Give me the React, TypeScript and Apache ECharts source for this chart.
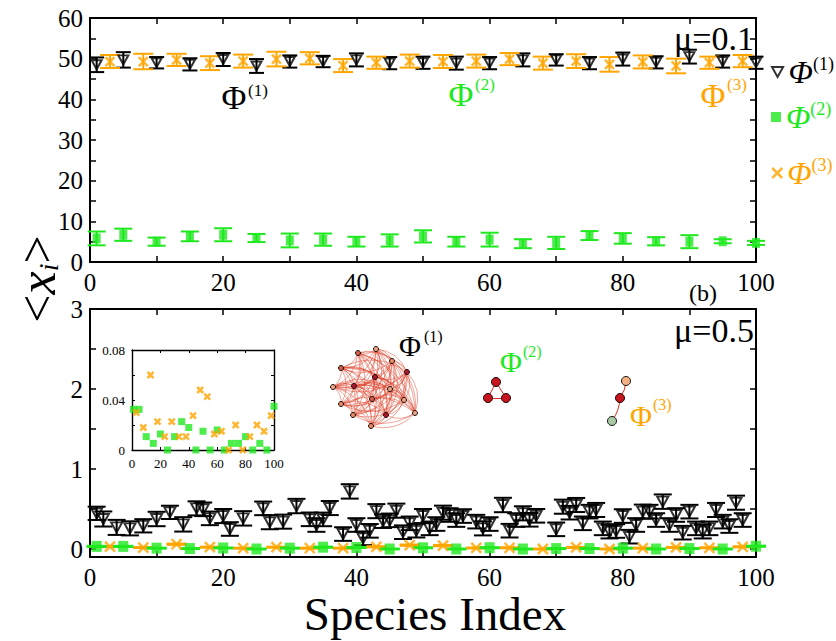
import React, { useEffect, useRef } from 'react';
import * as echarts from 'echarts';

const FONT = 'Liberation Serif';
const BLACK = '#000000';
const GREEN = '#1fe81f';
const ORANGE = '#ffa500';

// ---------- DATA ----------
// species indices of the sampled points
const speciesA = [1, 5, 10, 15, 20, 25, 30, 35, 40, 45, 50, 55, 60, 65, 70, 75, 80, 85, 90, 95, 100];
const speciesB = [3, 8, 13, 18, 23, 28, 33, 38, 43, 48, 53, 58, 63, 68, 73, 78, 83, 88, 93, 98];

// Panel (a): mu = 0.1
const phi1Top = [48.5, 49.7, 49.0, 48.6, 49.8, 48.2, 49.3, 49.3, 49.7, 48.9, 49.0, 48.9, 48.9, 49.7, 49.7, 48.9, 49.9, 49.1, 50.5, 49.3, 49.0];
const phi1TopErr = [1.8, 1.9, 1.4, 1.5, 1.6, 1.7, 1.5, 1.4, 1.6, 1.5, 1.5, 1.6, 1.5, 1.6, 1.4, 1.5, 1.6, 1.5, 1.7, 1.5, 1.5];
const phi2Top = [5.8, 6.7, 5.0, 6.3, 6.7, 5.9, 5.3, 5.5, 5.0, 5.3, 6.3, 5.0, 5.5, 4.5, 4.7, 6.5, 5.8, 5.1, 5.0, 5.1, 4.7];
const phi2TopErr = [1.7, 1.5, 1.0, 1.2, 1.6, 1.0, 1.7, 1.5, 1.2, 1.5, 1.5, 1.2, 1.7, 1.1, 1.5, 1.1, 1.3, 1.0, 1.6, 0.5, 0.5];
const phi3Top = [49.3, 49.3, 49.7, 48.9, 49.4, 49.9, 50.1, 48.3, 49.0, 49.4, 49.3, 49.4, 49.9, 48.9, 49.4, 48.6, 49.2, 48.2, 49.0, 49.4];
const phi3TopErr = [1.6, 1.9, 1.5, 1.7, 1.6, 1.8, 1.5, 1.6, 1.5, 1.6, 1.6, 1.6, 1.5, 1.6, 1.7, 1.8, 1.6, 1.8, 1.5, 1.5];

// Panel (b): mu = 0.5
const phi1BotSpecies = [1, 2, 4, 6, 8, 10, 12, 14, 16, 17, 18, 20, 21, 23, 26, 27, 29, 31, 33, 34, 35, 36, 38, 39, 40, 41, 42, 43, 44, 45, 46, 47, 48, 49, 50, 51, 52, 53, 54, 55, 56, 58, 59, 60, 62, 63, 64, 65, 66, 67, 70, 71, 72, 73, 74, 75, 76, 77, 78, 79, 80, 81, 82, 83, 84, 85, 86, 87, 88, 89, 90, 91, 92, 93, 94, 95, 96, 97, 98];
const phi1Bot = [0.446, 0.375, 0.27, 0.258, 0.29, 0.375, 0.458, 0.308, 0.508, 0.496, 0.383, 0.412, 0.25, 0.383, 0.508, 0.335, 0.342, 0.537, 0.371, 0.3, 0.37, 0.512, 0.187, 0.72, 0.3, 0.133, 0.227, 0.473, 0.348, 0.358, 0.479, 0.21, 0.321, 0.229, 0.412, 0.258, 0.312, 0.454, 0.425, 0.362, 0.412, 0.342, 0.258, 0.312, 0.55, 0.229, 0.362, 0.446, 0.365, 0.415, 0.246, 0.529, 0.454, 0.55, 0.321, 0.467, 0.488, 0.258, 0.217, 0.225, 0.412, 0.154, 0.3, 0.467, 0.467, 0.362, 0.592, 0.3, 0.425, 0.204, 0.467, 0.258, 0.217, 0.258, 0.488, 0.342, 0.287, 0.579, 0.362];
const phi1BotErr = [0.083, 0.094, 0.094, 0.088, 0.083, 0.09, 0.083, 0.09, 0.088, 0.085, 0.085, 0.088, 0.085, 0.09, 0.085, 0.088, 0.088, 0.09, 0.085, 0.085, 0.085, 0.088, 0.085, 0.09, 0.085, 0.085, 0.085, 0.088, 0.085, 0.085, 0.088, 0.085, 0.085, 0.085, 0.088, 0.085, 0.085, 0.088, 0.085, 0.085, 0.085, 0.085, 0.088, 0.085, 0.09, 0.085, 0.085, 0.088, 0.085, 0.085, 0.085, 0.088, 0.085, 0.088, 0.085, 0.085, 0.088, 0.085, 0.085, 0.085, 0.085, 0.085, 0.085, 0.088, 0.085, 0.085, 0.09, 0.085, 0.085, 0.085, 0.085, 0.085, 0.085, 0.085, 0.088, 0.085, 0.085, 0.088, 0.085];
const phi2Bot = [0.0325, 0.0325, 0.0107, 0.0053, 0.0128, 0, 0.0107, 0.0227, 0.018, 0, 0.015, 0, 0.016, 0, 0.0053, 0.0053, 0.0107, 0, 0.0053, 0, 0.035];
const phi2BotErr = [0.004, 0.004, 0.003, 0.003, 0.003, 0.002, 0.003, 0.004, 0.003, 0.002, 0.003, 0.002, 0.003, 0.002, 0.003, 0.003, 0.003, 0.002, 0.003, 0.002, 0.004];
const phi3Bot = [0.030, 0.018, 0.060, 0.0227, 0.0107, 0.0227, 0.0107, 0.0107, 0.0275, 0.048, 0.0427, 0.0128, 0.015, 0, 0.020, 0, 0.0107, 0.020, 0.015, 0.0275];
const phi3BotErr = [0.004, 0.003, 0.005, 0.003, 0.003, 0.003, 0.003, 0.003, 0.004, 0.005, 0.005, 0.003, 0.003, 0.002, 0.003, 0.002, 0.003, 0.003, 0.003, 0.004];

// tick labels
const xTickLabels = [0, 20, 40, 60, 80, 100];
const topYTickLabels = [0, 10, 20, 30, 40, 50, 60];
const botYTickLabels = [0, 1, 2, 3];
const insetXTickLabels = [0, 20, 40, 60, 80, 100];
const insetYTickLabels = [0, 0.04, 0.08];

// network sketches (node positions in pixels of the picture)
const net1Nodes = [[376, 349], [358, 353], [392, 361], [341, 368], [407, 372], [375, 377], [333, 387], [354, 386], [390, 389], [372, 399], [404, 400], [341, 404], [415, 413], [353, 415], [386, 415], [371, 426]];
const net1Colors = ['#f4a582', '#d6604d', '#ef8a62', '#d6604d', '#b2182b', '#b2182b', '#f4a582', '#b2182b', '#f4a582', '#d6604d', '#f4a582', '#ef8a62', '#f4a582', '#ef8a62', '#b2182b', '#ef8a62'];
const net2Nodes = [[496, 382], [488, 398], [506, 398]];
const net2Colors = ['#c8141e', '#c8141e', '#c8141e'];
const net2Edges = [[0, 1], [1, 2], [0, 2]];
const net3Nodes = [[626, 381], [620, 398], [612, 421]];
const net3Colors = ['#f4b183', '#c8141e', '#a9c8a4'];
const net3Edges = [[0, 1], [1, 2]];

// ---------- HELPERS ----------
const TRI = 'path://M0,0L10,0L5,9Z';
const CROSS = 'path://M0,0L10,10M10,0L0,10';

function pts(xs: number[], vs: number[]) {
  return xs.map((x, i) => [x, vs[i]]);
}
function errs(xs: number[], vs: number[], es: number[]) {
  return xs.map((x, i) => [x, vs[i] - es[i], vs[i] + es[i]]);
}
function hasLabel(list: number[], v: number) {
  return list.some((t) => Math.abs(t - v) < 1e-9);
}

function errSeries(name: string, xi: number, yi: number, data: number[][], color: string, capW: number, lw: number) {
  return {
    type: 'custom',
    name,
    xAxisIndex: xi,
    yAxisIndex: yi,
    data,
    silent: true,
    encode: { x: 0, y: [1, 2] },
    renderItem: (params: any, api: any) => {
      const x = api.value(0);
      const a = api.coord([x, api.value(1)]);
      const b = api.coord([x, api.value(2)]);
      const h = capW / 2;
      const style = { stroke: color, lineWidth: lw, fill: null };
      return {
        type: 'group',
        children: [
          { type: 'line', shape: { x1: a[0], y1: a[1], x2: b[0], y2: b[1] }, style },
          { type: 'line', shape: { x1: a[0] - h, y1: a[1], x2: a[0] + h, y2: a[1] }, style },
          { type: 'line', shape: { x1: b[0] - h, y1: b[1], x2: b[0] + h, y2: b[1] }, style },
        ],
      };
    },
  };
}

function markerSeries(name: string, xi: number, yi: number, data: number[][], kind: string, size: any) {
  let symbol: string = 'rect';
  let itemStyle: any = { color: GREEN };
  if (kind === 'tri') {
    symbol = TRI;
    itemStyle = { color: 'rgba(0,0,0,0)', borderColor: BLACK, borderWidth: 2 };
  } else if (kind === 'cross') {
    symbol = CROSS;
    itemStyle = { color: 'rgba(0,0,0,0)', borderColor: ORANGE, borderWidth: 2.5 };
  }
  return {
    type: 'scatter',
    name,
    xAxisIndex: xi,
    yAxisIndex: yi,
    data,
    symbol,
    symbolSize: size,
    itemStyle,
    silent: true,
    z: 3,
  };
}

function axisCommon(lw: number, tickLen: number) {
  return {
    type: 'value',
    axisLine: { show: true, onZero: false, lineStyle: { color: BLACK, width: lw } },
    axisTick: { show: true, inside: true, length: tickLen, lineStyle: { color: BLACK, width: lw * 0.75 } },
    splitLine: { show: false },
  };
}

function xAxes(gridIndex: number, min: number, max: number, interval: number, labels: number[], fontSize: number, margin: number, lw: number, tickLen: number, extra: any = {}) {
  return [
    {
      ...axisCommon(lw, tickLen),
      gridIndex, min, max, interval, position: 'bottom',
      axisLabel: { show: true, fontFamily: FONT, fontSize, color: BLACK, margin, formatter: (v: number) => (hasLabel(labels, v) ? String(v) : '') },
      ...extra,
    },
    {
      ...axisCommon(lw, tickLen),
      gridIndex, min, max, interval, position: 'top',
      axisLabel: { show: false },
    },
  ];
}

function yAxes(gridIndex: number, min: number, max: number, tickOpt: any, labels: number[], fontSize: number, margin: number, lw: number, tickLen: number, fmt?: (v: number) => string) {
  const f = fmt || ((v: number) => String(v));
  return [
    {
      ...axisCommon(lw, tickLen),
      gridIndex, min, max, ...tickOpt, position: 'left',
      axisLabel: { show: true, fontFamily: FONT, fontSize, color: BLACK, margin, formatter: (v: number) => (hasLabel(labels, v) ? f(v) : '') },
    },
    {
      ...axisCommon(lw, tickLen),
      gridIndex, min, max, ...tickOpt, position: 'right',
      axisLabel: { show: false },
    },
  ];
}

function graphSeries(nodes: number[][], colors: string[], edges: number[][], size: number, lineColor: string, lineOpacity: number, curveness: number, lineWidth: number) {
  const xs = nodes.map((p) => p[0]);
  const ys = nodes.map((p) => p[1]);
  const left = Math.min(...xs);
  const top = Math.min(...ys);
  return {
    type: 'graph',
    layout: 'none',
    left,
    top,
    width: Math.max(...xs) - left,
    height: Math.max(...ys) - top,
    silent: true,
    roam: false,
    symbolSize: size,
    label: { show: false },
    itemStyle: { borderColor: BLACK, borderWidth: 0.9 },
    lineStyle: { color: lineColor, opacity: lineOpacity, curveness, width: lineWidth },
    data: nodes.map((p, i) => ({ name: 'n' + i, x: p[0], y: p[1], itemStyle: { color: colors[i] } })),
    links: edges.map((e) => ({ source: 'n' + e[0], target: 'n' + e[1] })),
    z: 4,
  };
}

function phiText(cx: number, cy: number, size: number, sx: number, sy: number, supSize: number, sup: string, color: string) {
  return [
    { type: 'text', x: cx, y: cy, z: 20, style: { text: 'Φ', fontSize: size, fontFamily: FONT, fill: color, textAlign: 'center', textVerticalAlign: 'middle' } },
    { type: 'text', x: sx, y: sy, z: 20, style: { text: sup, fontSize: supSize, fontFamily: FONT, fill: color, textAlign: 'left', textVerticalAlign: 'middle' } },
  ];
}

function legendFor(name: string, sup: string, top: number, icon: string, itemStyle: any, color: string, iw: number, ih: number) {
  return {
    show: true,
    left: 771,
    top,
    padding: 0,
    orient: 'vertical',
    itemWidth: iw,
    itemHeight: ih,
    itemGap: 0,
    selectedMode: false,
    data: [{ name, icon, itemStyle }],
    formatter: () => `{p|Φ}{s|${sup}}`,
    textStyle: {
      padding: [0, 0, 0, 0],
      rich: {
        p: { fontFamily: FONT, fontStyle: 'italic', fontSize: 32, color, lineHeight: 34 },
        s: { fontFamily: FONT, fontSize: 18, color, verticalAlign: 'top', lineHeight: 18 },
      },
    },
  };
}

export default function App() {
  const ref = useRef<HTMLDivElement>(null);

  useEffect(() => {
    if (!ref.current) return;
    const chart = echarts.init(ref.current, null, { renderer: 'svg' });

    const net1Edges: number[][] = [];
    for (let i = 0; i < net1Nodes.length; i++) {
      for (let j = i + 1; j < net1Nodes.length; j++) net1Edges.push([i, j]);
    }

    const option: any = {
      animation: false,
      backgroundColor: '#ffffff',
      textStyle: { fontFamily: FONT },
      grid: [
        { left: 90, top: 18, width: 666, height: 244, outerBoundsMode: 'none' },
        { left: 90, top: 309, width: 666, height: 248, outerBoundsMode: 'none' },
        { left: 132, top: 350, width: 142, height: 100, outerBoundsMode: 'none' },
      ],
      xAxis: [
        ...xAxes(0, 0, 100, 10, xTickLabels, 25, 8, 2, 6),
        ...xAxes(1, 0, 100, 10, xTickLabels, 25, 8, 2, 6, {
          name: 'Species Index',
          nameLocation: 'middle',
          nameGap: 33,
          nameTextStyle: { fontFamily: FONT, fontSize: 47, lineHeight: 47, color: BLACK, padding: [0, 0, 0, 24] },
        }),
        ...xAxes(2, 0, 100, 20, insetXTickLabels, 13, 7, 1.4, 3),
      ],
      yAxis: [
        ...yAxes(0, 0, 60, { interval: 5 }, topYTickLabels, 25, 7, 2, 6),
        ...yAxes(1, -0.1, 3, { splitNumber: 6 }, botYTickLabels, 25, 7, 2, 6, (v: number) => String(Math.round(v))),
        ...yAxes(2, 0, 0.08, { interval: 0.02 }, insetYTickLabels, 13, 7, 1.4, 3, (v: number) => (Math.abs(v) < 1e-9 ? '0' : v.toFixed(2))),
      ],
      legend: [
        legendFor('Φ(1)', '(1)', 55, TRI, { color: 'rgba(0,0,0,0)', borderColor: BLACK, borderWidth: 2 }, BLACK, 12, 10),
        legendFor('Φ(2)', '(2)', 100, 'rect', { color: GREEN, borderWidth: 0 }, GREEN, 10, 10),
        legendFor('Φ(3)', '(3)', 156, CROSS, { color: 'rgba(0,0,0,0)', borderColor: ORANGE, borderWidth: 2.5 }, ORANGE, 10, 10),
      ],
      series: [
        // panel (a)
        errSeries('Φ(1) error', 0, 0, errs(speciesA, phi1Top, phi1TopErr), BLACK, 15, 2),
        markerSeries('Φ(1)', 0, 0, pts(speciesA, phi1Top), 'tri', [10, 9]),
        errSeries('Φ(3) error', 0, 0, errs(speciesB, phi3Top, phi3TopErr), ORANGE, 20, 2),
        markerSeries('Φ(3)', 0, 0, pts(speciesB, phi3Top), 'cross', 9),
        errSeries('Φ(2) error', 0, 0, errs(speciesA, phi2Top, phi2TopErr), GREEN, 18, 2),
        markerSeries('Φ(2)', 0, 0, pts(speciesA, phi2Top), 'rect', [8, 10]),
        // panel (b)
        errSeries('Φ(1) error b', 2, 2, errs(phi1BotSpecies, phi1Bot, phi1BotErr), BLACK, 18, 2),
        markerSeries('Φ(1)', 2, 2, pts(phi1BotSpecies, phi1Bot), 'tri', [11, 10]),
        errSeries('Φ(3) error b', 2, 2, errs(speciesB, phi3Bot, phi3BotErr), ORANGE, 20, 2.5),
        markerSeries('Φ(3)', 2, 2, pts(speciesB, phi3Bot), 'cross', 10),
        errSeries('Φ(2) error b', 2, 2, errs(speciesA, phi2Bot, phi2BotErr), GREEN, 20, 2.5),
        markerSeries('Φ(2)', 2, 2, pts(speciesA, phi2Bot), 'rect', [10, 11]),
        // inset
        markerSeries('Φ(2)', 4, 4, pts(speciesA, phi2Bot), 'rect', [7, 7]),
        markerSeries('Φ(3)', 4, 4, pts(speciesB, phi3Bot), 'cross', 6),
        // network sketches
        graphSeries(net1Nodes, net1Colors, net1Edges, 5, '#dc3a22', 0.5, 0.3, 0.9),
        graphSeries(net2Nodes, net2Colors, net2Edges, 9, '#d7301f', 1, 0, 1),
        graphSeries(net3Nodes, net3Colors, net3Edges, 9, '#d7301f', 1, 0.15, 1),
      ],
      graphic: [
        ...phiText(234, 97, 34, 248, 90, 17, '(1)', BLACK),
        ...phiText(461, 94, 34, 475, 84, 17, '(2)', GREEN),
        ...phiText(713, 95, 34, 727, 84, 17, '(3)', ORANGE),
        ...phiText(410, 345, 30, 424, 336, 16, '(1)', BLACK),
        ...phiText(511, 361, 30, 523, 351, 16, '(2)', GREEN),
        ...phiText(641, 415, 30, 653, 404, 16, '(3)', ORANGE),
        { type: 'text', x: 754, y: 38, z: 20, style: { text: 'μ=0.1', fontSize: 34, fontFamily: FONT, fill: BLACK, textAlign: 'right', textVerticalAlign: 'middle' } },
        { type: 'text', x: 754, y: 330, z: 20, style: { text: 'μ=0.5', fontSize: 34, fontFamily: FONT, fill: BLACK, textAlign: 'right', textVerticalAlign: 'middle' } },
        { type: 'text', x: 703, y: 293, z: 20, style: { text: '(b)', fontSize: 24, fontFamily: FONT, fill: BLACK, textAlign: 'center', textVerticalAlign: 'middle' } },
        {
          type: 'text', x: 37, y: 279, rotation: Math.PI / 2, z: 20,
          style: {
            text: '{a|<}{b|x}{c|i}{a|>}',
            textAlign: 'center', textVerticalAlign: 'middle', fill: BLACK,
            rich: {
              a: { fontSize: 50, fontFamily: FONT, fill: BLACK, lineHeight: 50 },
              b: { fontSize: 52, fontFamily: FONT, fontStyle: 'italic', fill: BLACK, lineHeight: 50 },
              c: { fontSize: 28, fontFamily: FONT, fontStyle: 'italic', fill: BLACK, verticalAlign: 'bottom', lineHeight: 28 },
            },
          },
        },
      ],
    };

    chart.setOption(option);
    return () => chart.dispose();
  }, []);

  return <div ref={ref} style={{ position: 'fixed', left: 0, top: 0, width: 836, height: 641, background: '#fff' }} />;
}
